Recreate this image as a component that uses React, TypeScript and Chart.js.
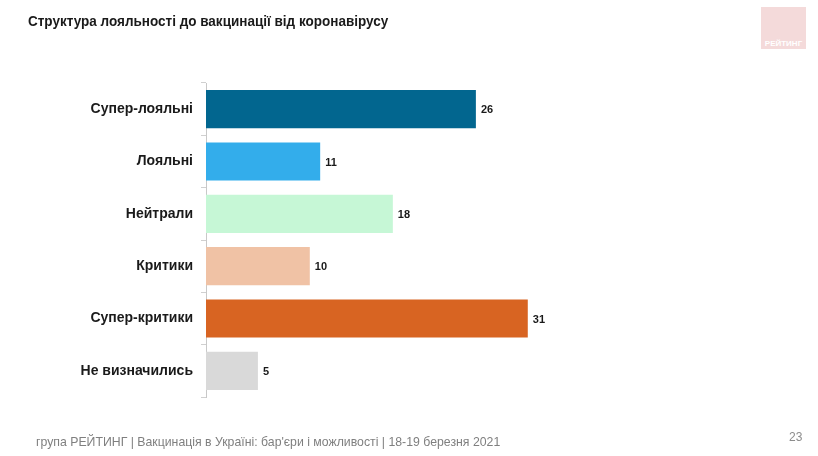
import React, { useEffect, useRef } from "react";
import { Chart, registerables } from "chart.js";

Chart.register(...registerables);

const categories = ["Супер-лояльні", "Лояльні", "Нейтрали", "Критики", "Супер-критики", "Не визначились"];
const values = [26, 11, 18, 10, 31, 5];
const barColors = ["#02668f", "#33adeb", "#c6f7d6", "#f0c2a5", "#d86422", "#d9d9d9"];
const titleText = "Структура лояльності до вакцинації від коронавірусу";
const footerText = "група РЕЙТИНГ | Вакцинація в Україні: бар'єри і можливості | 18-19 березня 2021";
const pageNumber = "23";
const logoText = "РЕЙТИНГ";

const FONT = "'Liberation Sans', Arial, sans-serif";

const valueLabelPlugin = {
  id: "valueLabels",
  afterDatasetsDraw(chart: any) {
    const ctx = chart.ctx;
    const meta = chart.getDatasetMeta(0);
    ctx.save();
    ctx.font = `bold 11px ${FONT}`;
    ctx.fillStyle = "#1a1a1a";
    ctx.textAlign = "left";
    ctx.textBaseline = "middle";
    meta.data.forEach((bar: any, i: number) => {
      ctx.fillText(String(values[i]), bar.x + 5, bar.y + 1);
    });
    ctx.restore();
  },
};

export default function App() {
  const ref = useRef<HTMLCanvasElement>(null);

  useEffect(() => {
    document.body.style.margin = "0";
    const chart = new Chart(ref.current!, {
      type: "bar",
      data: {
        labels: categories,
        datasets: [
          {
            data: values,
            backgroundColor: barColors,
            borderWidth: 0,
            barPercentage: 0.73,
            categoryPercentage: 1,
          },
        ],
      },
      options: {
        indexAxis: "y",
        animation: false,
        responsive: false,
        maintainAspectRatio: false,
        layout: { padding: { top: 83, bottom: 59, left: 0, right: 93 } },
        plugins: { legend: { display: false }, tooltip: { enabled: false }, title: { display: false } },
        scales: {
          x: { display: false, min: 0, max: 50 },
          y: {
            afterFit: (s: any) => {
              s.width = 206;
            },
            grid: {
              offset: true,
              drawOnChartArea: false,
              drawTicks: true,
              tickLength: 5,
              color: "#d0d0d0",
            },
            border: { display: true, color: "#c8c8c8", width: 1 },
            ticks: {
              padding: 8,
              color: "#1a1a1a",
              font: { family: FONT, size: 14, weight: "bold" },
            },
          },
        },
      },
      plugins: [valueLabelPlugin],
    });
    return () => chart.destroy();
  }, []);

  return (
    <div style={{ position: "relative", width: 818, height: 456, background: "#fff", overflow: "hidden", fontFamily: FONT }}>
      <canvas ref={ref} width={818} height={456} style={{ position: "absolute", left: 0, top: 0 }} />
      <div
        style={{
          position: "absolute",
          left: 28,
          top: 13,
          fontSize: 14,
          fontWeight: "bold",
          color: "#1a1a1a",
          whiteSpace: "nowrap",
          transform: "scaleX(0.965)",
          transformOrigin: "left top",
        }}
      >
        {titleText}
      </div>
      <div style={{ position: "absolute", left: 761, top: 7, width: 45, height: 42, background: "#f4dada" }}>
        <div style={{ position: "absolute", left: 0, right: 0, top: 32, textAlign: "center", color: "#fff", fontSize: 8, fontWeight: "bold", lineHeight: "10px" }}>
          {logoText}
        </div>
      </div>
      <div
        style={{
          position: "absolute",
          left: 36,
          top: 434,
          fontSize: 13,
          color: "#7f7f7f",
          whiteSpace: "nowrap",
          transform: "scaleX(0.945)",
          transformOrigin: "left top",
        }}
      >
        {footerText}
      </div>
      <div style={{ position: "absolute", left: 789, top: 430, fontSize: 12, color: "#8c8c8c" }}>{pageNumber}</div>
    </div>
  );
}
